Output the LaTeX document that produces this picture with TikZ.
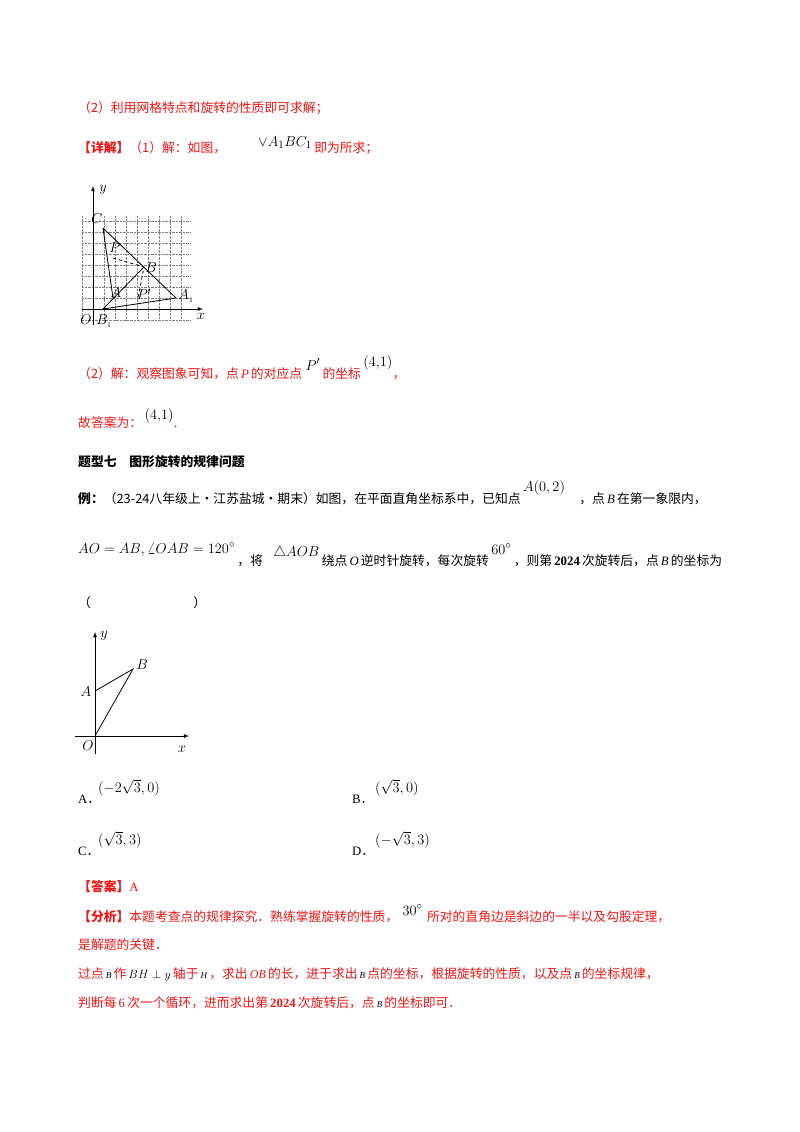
\documentclass[tikz,border=0pt]{standalone}
\usepackage{fontspec}
\setmainfont{Liberation Serif}
\newfontfamily\cjk{Noto Sans CJK SC}
\usetikzlibrary{calc}
\definecolor{rd}{RGB}{240,20,20}
\begin{document}
\begin{tikzpicture}[x=1pt,y=-1pt,
  ln/.style={anchor=base west,inner sep=0pt,font=\fontsize{12.8}{15}\selectfont\cjk},
  m/.style={anchor=base west,inner sep=0pt,font=\fontsize{15}{17}\selectfont\rmfamily},
  r/.style={text=rd}, lab/.style={font=\fontsize{14}{16}\selectfont\itshape,inner sep=0pt}]
\useasboundingbox (0,0) rectangle (800,1132);
\node[ln,r] (t1) at (78,112) {（2）利用网格特点和旋转的性质即可求解；};
\node[ln,r] (t2) at (78,152) {\textbf{【详解】}（1）解：如图，};
\node[m] (t2m) at (258,146) {$\vee A_1BC_1$};
\node[ln,r] (t2b) at ($(t2m.base east)+(2,6)$) {即为所求；};
% figure 1
\begin{scope}
\foreach \i in {-1,...,8} \draw[densely dotted,gray] (93+\i*11,320)--(93+\i*11,216);
\foreach \j in {-1,...,8} \draw[densely dotted,gray] (82,309-\j*11)--(190,309-\j*11);
\draw[-latex,thick] (82,309)--(203,309);
\draw[-latex,thick] (93,325)--(93,186);
\coordinate (C) at (103,228); \coordinate (B) at (144,267); \coordinate (A1) at (176,298);
\coordinate (A) at (113,298); \coordinate (B1) at (103,309); \coordinate (P) at (113,258); \coordinate (Pp) at (138,298);
\draw[thick] (C)--(A) (C)--(A1) (B1)--(A1) (B1)--(B);
\draw[thick,dashed] (P)--(B)--(Pp);
\node[lab] at (86,320) {$O$};
\node[lab] at (104,321) {$B_{\scriptscriptstyle 1}$};
\node[lab] at (97,219) {$C$};
\node[lab] at (115,248) {$P$};
\node[lab] at (151,268) {$B$};
\node[lab] at (116,293) {$A$};
\node[lab] at (144,294) {$P'$};
\node[lab] at (186,296) {$A_{\scriptscriptstyle 1}$};
\node[lab] at (201,316) {$x$};
\node[lab] at (103,190) {$y$};
\end{scope}
\node[ln,r] (t3) at (78,378) {（2）解：观察图象可知，点\,{\rmfamily\itshape\textcolor{rd}{P}}\,的对应点};
\node[m] (t3m) at ($(t3.base east)+(3,-8)$) {$P'$};
\node[ln,r] (t3b) at ($(t3m.base east)+(2,8)$) {的坐标};
\node[m] (t3c) at ($(t3b.base east)+(2,-12)$) {$(4{,}1)$};
\node[ln,r] (t3d) at ($(t3c.base east)+(0,12)$) {，};
\node[ln,r] (t4) at (78,427) {故答案为：};
\node[m] (t4m) at ($(t4.base east)+(2,-8)$) {$(4{,}1)$};
\node[ln,r] (t4d) at ($(t4m.base east)+(0,8)$) {.};
\node[ln,font=\fontsize{12.8}{15}\selectfont\cjk\bfseries] (t5) at (78,466) {题型七　图形旋转的规律问题};
\node[ln] (t6) at (78,503) {\textbf{例：}（23-24八年级上·江苏盐城·期末）如图，在平面直角坐标系中，已知点};
\node[m] (t6m) at ($(t6.base east)+(2,-12)$) {$A(0,2)$};
\node[ln] (t6b) at ($(t6m.base east)+(14,12)$) {，点\,{\rmfamily\itshape B}\,在第一象限内，};
\node[m] (t7m) at (78,553) {$AO=AB,\angle OAB=120^\circ$};
\node[ln] (t7) at ($(t7m.base east)+(2,12)$) {，将};
\node[m] (t7n) at ($(t7.base east)+(10,-9)$) {$\triangle AOB$};
\node[ln] (t7b) at ($(t7n.base east)+(2,9)$) {绕点\,{\rmfamily\itshape O}\,逆时针旋转，每次旋转};
\node[m] (t7c) at ($(t7b.base east)+(2,-11)$) {$60^\circ$};
\node[ln] (t7d) at ($(t7c.base east)+(2,11)$) {，则第\,{\rmfamily\bfseries 2024}\,次旋转后，点\,{\rmfamily\itshape B}\,的坐标为};
\node[ln] (t8) at (78,607) {（\hspace{8em}）};
% figure 2
\coordinate (O2) at (95,736); \coordinate (A2) at (95,691); \coordinate (B2) at (133,669);
\draw[-latex,thick] (75,736)--(189,736);
\draw[-latex,thick] (95,754)--(95,632);
\draw[thick] (A2)--(B2)--(O2);
\node[lab] at (88,746) {$O$};
\node[lab] at (86,692) {$A$};
\node[lab] at (142,665) {$B$};
\node[lab] at (182,749) {$x$};
\node[lab] at (104,636) {$y$};
\node[ln] (oa) at (78,803) {{\rmfamily A}．};
\node[m] (oam) at (98,792) {$(-2\sqrt{3},0)$};
\node[ln] (ob) at (352,803) {{\rmfamily B}．};
\node[m] (obm) at (375,792) {$(\sqrt{3},0)$};
\node[ln] (oc) at (78,855) {{\rmfamily C}．};
\node[m] (ocm) at (98,844) {$(\sqrt{3},3)$};
\node[ln] (od) at (352,855) {{\rmfamily D}．};
\node[m] (odm) at (375,844) {$(-\sqrt{3},3)$};
\node[ln,r] (an) at (78,891) {\textbf{【答案】}{\rmfamily A}};
\node[ln,r] (f1) at (78,921) {\textbf{【分析】}本题考查点的规律探究．熟练掌握旋转的性质，};
\node[m] (f1m) at ($(f1.base east)+(4,-6)$) {$30^\circ$};
\node[ln,r] (f1b) at ($(f1m.base east)+(4,6)$) {所对的直角边是斜边的一半以及勾股定理，};
\node[ln,r] (f2) at (78,949) {是解题的关键．};
\node[ln,r] (f3) at (78,978) {过点\,{\rmfamily\itshape\color{black}\small B}\,作\,{\rmfamily\color{black}\large$BH\perp y$}\,轴于\,{\rmfamily\itshape\color{black}\small H}\,，求出\,{\rmfamily\itshape\large OB}\,的长，进于求出\,{\rmfamily\itshape\color{black}\small B}\,点的坐标，根据旋转的性质，以及点\,{\rmfamily\itshape\color{black}\small B}\,的坐标规律，};
\node[ln,r] (f4) at (78,1007) {判断每\,{\rmfamily 6}\,次一个循环，进而求出第\,{\rmfamily\bfseries 2024}\,次旋转后，点\,{\rmfamily\itshape\color{black}\small B}\,的坐标即可．};
\end{tikzpicture}
\end{document}
